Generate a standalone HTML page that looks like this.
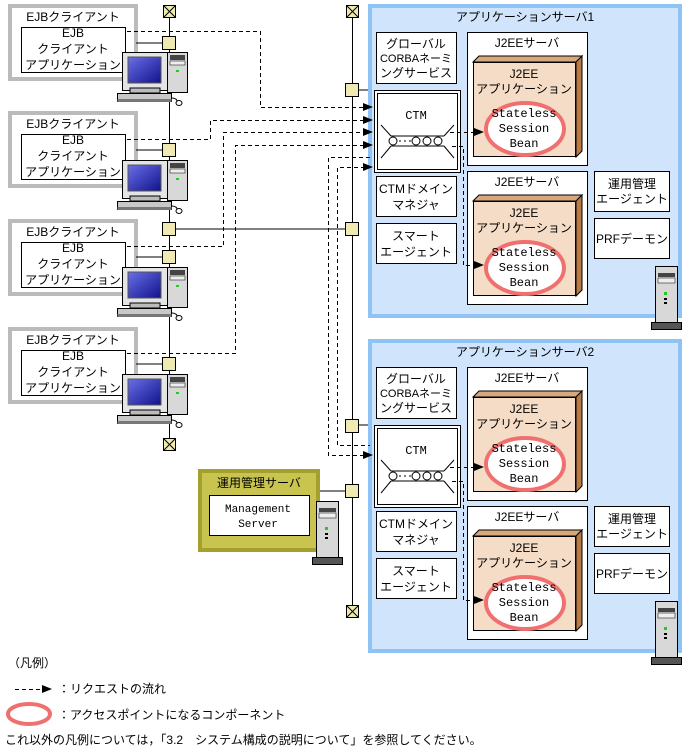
<!DOCTYPE html>
<html><head><meta charset="utf-8"><style>
html,body{margin:0;padding:0;background:#fff}
svg{display:block}
text{font-family:"Liberation Sans","Noto Sans CJK JP",sans-serif;font-size:12px;fill:#000}
.m{font-family:"Liberation Mono","Noto Sans CJK JP",monospace}
</style></head><body>
<svg width="689" height="756" viewBox="0 0 689 756" xmlns="http://www.w3.org/2000/svg">
<defs>
<linearGradient id="scr" x1="0" y1="0" x2="1" y2="1"><stop offset="0" stop-color="#6a70e8"/><stop offset="1" stop-color="#10128a"/></linearGradient>
<g id="pc">
<rect x="122.5" y="52.5" width="45" height="38" fill="#e4e4e4" stroke="#000"/>
<rect x="128" y="57" width="33" height="26" fill="url(#scr)" stroke="#555"/>
<rect x="130" y="88" width="30" height="5" fill="#bbb" stroke="#000"/>
<rect x="117.5" y="93.5" width="54" height="8" fill="#c8c8c8" stroke="#000"/>
<rect x="117.5" y="99" width="54" height="3" fill="#777"/>
<rect x="167.5" y="52.5" width="20" height="40" fill="#d8d8d8" stroke="#000"/>
<rect x="170" y="55" width="15" height="5" fill="#444"/>
<rect x="170" y="61" width="15" height="4" fill="#eee" stroke="#000" stroke-width=".5"/>
<rect x="176" y="70" width="3" height="2" fill="#2c2"/>
<path d="M172 98 q5 0 6 5" fill="none" stroke="#000"/><ellipse cx="179" cy="103" rx="3" ry="2.5" fill="#fff" stroke="#000"/>
</g>
<g id="tower">
<rect x="0.5" y="0.5" width="22" height="56" fill="#d8d8d8" stroke="#000"/>
<rect x="3" y="7" width="17" height="4" fill="#444"/>
<rect x="3" y="12" width="17" height="5" fill="#eee" stroke="#000" stroke-width=".5"/>
<rect x="9" y="26" width="3" height="3" fill="#2c2"/>
<rect x="9" y="32" width="3" height="2" fill="#000"/><rect x="9" y="36" width="3" height="2" fill="#000"/>
<rect x="-3.5" y="56.5" width="30" height="7" fill="#555" stroke="#000"/>
</g>
<g id="term"><rect x="-6.5" y="-6.5" width="12" height="12" fill="#eeeab0" stroke="#000"/><path d="M-6 -6 L5 5 M5 -6 L-6 5" stroke="#000"/></g>
<rect id="sq" x="-6.5" y="-6.5" width="13" height="13" fill="#eeeab0" stroke="#000"/>
<path id="ah" d="M-10 -4 L0 0 L-10 4 Z" fill="#000"/>
<g id="ctm">
<rect x="374.5" y="90.5" width="86" height="82" fill="#fff" stroke="#000"/>
<rect x="377.5" y="93.5" width="80" height="76" fill="#fff" stroke="#000"/>
<path d="M391 136 H444 M391 146 H444 M381 125 L391 136 M454 125 L444 136 M381 158 L391 146 M454 158 L444 146" stroke="#000" fill="none"/>
<g fill="#fff" stroke="#000"><circle cx="393" cy="141" r="4"/><circle cx="416" cy="141" r="4"/><circle cx="427" cy="141" r="4"/><circle cx="438" cy="141" r="4"/></g>
<path d="M399 141 H401 M404 141 H406 M409 141 H411" stroke="#000"/>
</g>
<g id="cube">
<path d="M473 62 L479 56 L582 56 L576 62 Z" fill="#d7a87c" stroke="#000"/>
<path d="M576 62 L582 56 L582 151 L576 157 Z" fill="#b87a46" stroke="#000"/>
<rect x="473.5" y="62.5" width="102" height="94" fill="#f4dcc6" stroke="#000"/>
<ellipse cx="525" cy="129" rx="39" ry="26" fill="#fff" stroke="#f07070" stroke-width="4"/>
</g>
</defs>

<!-- clients -->
<g id="c1">
<rect x="10" y="6" width="126" height="73" fill="none" stroke="#bbb" stroke-width="4"/>
<rect x="21.5" y="27.5" width="104" height="45" fill="#fff" stroke="#000"/>
</g>
<use href="#c1" y="107"/><use href="#c1" y="215"/><use href="#c1" y="323"/>
<g text-anchor="middle">
<text x="73" y="21">EJBクライアント</text><text x="73" y="37">EJB</text><text x="73" y="53">クライアント</text><text x="73" y="69">アプリケーション</text>
<text x="73" y="128">EJBクライアント</text><text x="73" y="144">EJB</text><text x="73" y="160">クライアント</text><text x="73" y="176">アプリケーション</text>
<text x="73" y="236">EJBクライアント</text><text x="73" y="252">EJB</text><text x="73" y="268">クライアント</text><text x="73" y="284">アプリケーション</text>
<text x="73" y="344">EJBクライアント</text><text x="73" y="360">EJB</text><text x="73" y="376">クライアント</text><text x="73" y="392">アプリケーション</text>
</g>

<!-- buses -->
<path d="M169.5 12 V445 M352.5 12 V612 M136 43 H169 M136 150 H169 M136 257 H169 M136 364 H169 M169 229 H352 M352 90 H374 M352 425 H374 M320 491 H352" stroke="#000" fill="none"/>
<use href="#pc"/><use href="#pc" y="108"/><use href="#pc" y="215"/><use href="#pc" y="322"/>
<use href="#term" x="170" y="12"/><use href="#term" x="170" y="445"/><use href="#term" x="353" y="12"/><use href="#term" x="353" y="612"/>
<use href="#sq" x="169" y="43"/><use href="#sq" x="169" y="150"/><use href="#sq" x="169" y="229"/><use href="#sq" x="169" y="257"/><use href="#sq" x="169" y="364"/>
<use href="#sq" x="352" y="90"/><use href="#sq" x="352" y="229"/><use href="#sq" x="352" y="426"/><use href="#sq" x="352" y="491"/>

<!-- app servers -->
<g id="srv">
<rect x="370" y="6" width="310" height="310" fill="#d0e4fb" stroke="#8fc3f5" stroke-width="4"/>
<rect x="376.5" y="32.5" width="80" height="51" fill="#fff" stroke="#000"/>
<rect x="376.5" y="176.5" width="80" height="40" fill="#fff" stroke="#000"/>
<rect x="376.5" y="223.5" width="80" height="40" fill="#fff" stroke="#000"/>
<rect x="467.5" y="32.5" width="120" height="133" fill="#fff" stroke="#000"/>
<rect x="467.5" y="171.5" width="120" height="133" fill="#fff" stroke="#000"/>
<rect x="594.5" y="171.5" width="75" height="40" fill="#fff" stroke="#000"/>
<rect x="594.5" y="218.5" width="75" height="40" fill="#fff" stroke="#000"/>
<use href="#ctm"/><use href="#cube"/><use href="#cube" y="139"/>
<use href="#tower" x="655" y="266"/>
<path d="M450 132.5 H476 M452 146.5 H463.5 V265.5 H476" stroke="#000" stroke-dasharray="4,3" fill="none"/>
<use href="#ah" x="484" y="132"/><use href="#ah" x="484" y="265"/>
</g>
<use href="#srv" y="335"/>

<g text-anchor="middle">
<text x="525" y="21">アプリケーションサーバ1</text>
<text x="416" y="48">グローバル</text><text x="416" y="62" style="font-size:11px">CORBAネーミ</text><text x="416" y="77">ングサービス</text>
<text x="416" y="119" class="m">CTM</text>
<text x="416" y="193">CTMドメイン</text><text x="416" y="209">マネジャ</text>
<text x="416" y="240">スマート</text><text x="416" y="256">エージェント</text>
<text x="527" y="47">J2EEサーバ</text><text x="527" y="186">J2EEサーバ</text>
<text x="524" y="78">J2EE</text><text x="524" y="93">アプリケーション</text>
<text x="524" y="217">J2EE</text><text x="524" y="232">アプリケーション</text>
<g class="m"><text x="524" y="117" class="m">Stateless</text><text x="524" y="132" class="m">Session</text><text x="524" y="147" class="m">Bean</text>
<text x="524" y="256" class="m">Stateless</text><text x="524" y="271" class="m">Session</text><text x="524" y="286" class="m">Bean</text></g>
<text x="632" y="188">運用管理</text><text x="632" y="203">エージェント</text>
<text x="632" y="243">PRFデーモン</text>

<text x="525" y="356">アプリケーションサーバ2</text>
<text x="416" y="383">グローバル</text><text x="416" y="397" style="font-size:11px">CORBAネーミ</text><text x="416" y="412">ングサービス</text>
<text x="416" y="454" class="m">CTM</text>
<text x="416" y="528">CTMドメイン</text><text x="416" y="544">マネジャ</text>
<text x="416" y="575">スマート</text><text x="416" y="591">エージェント</text>
<text x="527" y="382">J2EEサーバ</text><text x="527" y="521">J2EEサーバ</text>
<text x="524" y="413">J2EE</text><text x="524" y="428">アプリケーション</text>
<text x="524" y="552">J2EE</text><text x="524" y="567">アプリケーション</text>
<text x="524" y="452" class="m">Stateless</text><text x="524" y="467" class="m">Session</text><text x="524" y="482" class="m">Bean</text>
<text x="524" y="591" class="m">Stateless</text><text x="524" y="606" class="m">Session</text><text x="524" y="621" class="m">Bean</text>
<text x="632" y="523">運用管理</text><text x="632" y="538">エージェント</text>
<text x="632" y="578">PRFデーモン</text>
</g>

<!-- request dashed lines -->
<g stroke="#000" stroke-dasharray="4,3" fill="none">
<path d="M127 31.5 H260.5 V107.5 H365"/>
<path d="M127 139.5 H210.5 V120.5 H365"/>
<path d="M127 246.5 H223.5 V132.5 H365"/>
<path d="M127 353.5 H235.5 V145.5 H365"/>
<path d="M370 157.5 H328.5 V455.5 H365"/>
<path d="M365 167.5 H337.5 V445.5 H370"/>
</g>
<use href="#ah" x="373" y="107"/><use href="#ah" x="373" y="120"/><use href="#ah" x="373" y="132"/><use href="#ah" x="373" y="145"/><use href="#ah" x="373" y="167"/><use href="#ah" x="373" y="455"/>

<!-- management server -->
<rect x="200" y="471" width="118" height="79" fill="#c8c44f" stroke="#a4a030" stroke-width="4"/>
<rect x="209.5" y="495.5" width="100" height="40" fill="#fff" stroke="#000"/>
<text x="259" y="487" text-anchor="middle">運用管理サーバ</text>
<text x="258" y="512" text-anchor="middle" class="m" style="font-size:11px">Management</text>
<text x="258" y="527" text-anchor="middle" class="m" style="font-size:11px">Server</text>
<use href="#tower" x="316" y="501"/>

<!-- legend -->
<text x="8" y="667">（凡例）</text>
<path d="M15 689.5 H42" stroke="#000" stroke-dasharray="4,3"/><use href="#ah" x="52" y="689"/>
<text x="58" y="693">：リクエストの流れ</text>
<ellipse cx="29" cy="714" rx="21" ry="10" fill="#fff" stroke="#f07070" stroke-width="4"/>
<text x="58" y="719">：アクセスポイントになるコンポーネント</text>
<text x="5" y="744">これ以外の凡例については，「3.2　システム構成の説明について」を参照してください。</text>
</svg>
</body></html>
